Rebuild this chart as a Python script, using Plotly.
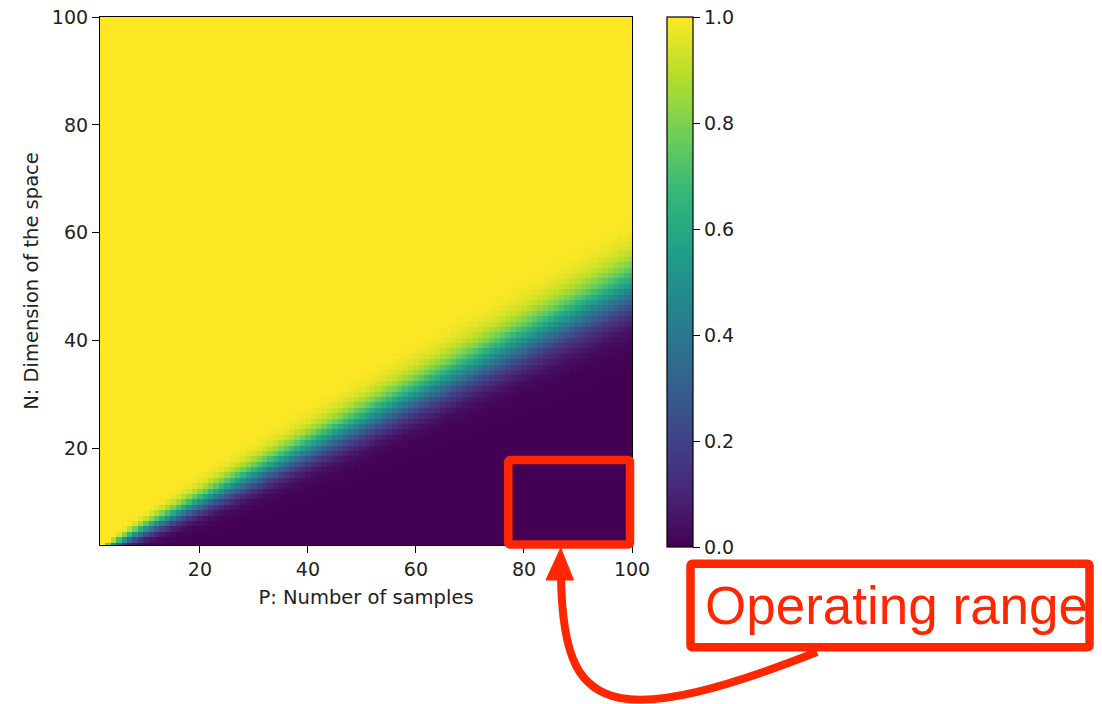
import plotly.graph_objects as go
from math import comb

# ---- data -------------------------------------------------------------
# P: number of samples (columns), N: dimension of the space (rows)
P_values = list(range(1, 101))
N_values = list(range(1, 101))
# Fraction of linearly separable dichotomies (Cover's counting function),
# which is exactly what the heat map shows.
separable_fraction = [
    [sum(comb(p - 1, k) for k in range(min(n, p))) / 2 ** (p - 1) for p in P_values]
    for n in N_values
]
x_ticks = [20, 40, 60, 80, 100]
y_ticks = [20, 40, 60, 80, 100]
cbar_ticks = [0.0, 0.2, 0.4, 0.6, 0.8, 1.0]
x_title = "P: Number of samples"
y_title = "N: Dimension of the space"
callout_text = "Operating range"

# ---- layout geometry (pixels) -----------------------------------------
W_FIG, H_FIG = 1102, 704
L, R, T, B = 100, 632, 17, 545
PW, PH = R - L, B - T
RED = "#FF2600"
FONT = "DejaVu Sans"


def xp(px):
    return (px - L) / PW


def yp(py):
    return (B - py) / PH


def rrect(x0, y0, x1, y1, r=2):
    return (
        f"M {xp(x0 + r)},{yp(y0)} L {xp(x1 - r)},{yp(y0)} "
        f"Q {xp(x1)},{yp(y0)} {xp(x1)},{yp(y0 + r)} "
        f"L {xp(x1)},{yp(y1 - r)} Q {xp(x1)},{yp(y1)} {xp(x1 - r)},{yp(y1)} "
        f"L {xp(x0 + r)},{yp(y1)} Q {xp(x0)},{yp(y1)} {xp(x0)},{yp(y1 - r)} "
        f"L {xp(x0)},{yp(y0 + r)} Q {xp(x0)},{yp(y0)} {xp(x0 + r)},{yp(y0)} Z"
    )


fig = go.Figure(
    go.Heatmap(
        x=P_values,
        y=N_values,
        z=separable_fraction,
        colorscale="Viridis",
        zmin=0,
        zmax=1,
        hoverinfo="skip",
        colorbar=dict(
            x=(667 - L) / PW,
            xanchor="left",
            y=(B - 547) / PH,
            yanchor="bottom",
            len=(547 - 17) / PH,
            lenmode="fraction",
            thickness=26,
            thicknessmode="pixels",
            outlinewidth=1.2,
            outlinecolor="black",
            ticks="outside",
            ticklen=7,
            tickwidth=1.2,
            tickcolor="black",
            tickvals=cbar_ticks,
            ticktext=[f"{v:.1f}" for v in cbar_ticks],
            tickfont=dict(family=FONT, size=19, color="#222"),
            xpad=0,
            ypad=0,
        ),
    )
)

axis_common = dict(
    showgrid=False,
    zeroline=False,
    showline=True,
    linecolor="black",
    linewidth=1.2,
    mirror=True,
    ticks="outside",
    ticklen=7,
    tickwidth=1.2,
    tickcolor="black",
    tickfont=dict(family=FONT, size=19, color="#222"),
    automargin=False,
)

fig.update_xaxes(
    range=[1.5, 100],
    tickvals=x_ticks,
    title=dict(text=x_title, font=dict(family=FONT, size=19.5, color="#222"), standoff=11),
    **axis_common,
)
fig.update_yaxes(
    range=[2.1, 100],
    tickvals=y_ticks,
    title=dict(text=y_title, font=dict(family=FONT, size=19.5, color="#222"), standoff=8),
    **axis_common,
)

shapes = [
    # box around the operating range
    dict(type="path", xref="paper", yref="paper", path=rrect(508.3, 460, 630, 544.5),
         line=dict(color=RED, width=8.5), layer="above"),
    # callout box
    dict(type="path", xref="paper", yref="paper", path=rrect(690.5, 563.7, 1089.5, 647.3),
         line=dict(color=RED, width=8.5), fillcolor="white", layer="above"),
    # curved arrow
    dict(type="path", xref="paper", yref="paper",
         path=(f"M {xp(817)},{yp(652)} C {xp(720)},{yp(690)} {xp(660)},{yp(705)} {xp(620)},{yp(698)} "
               f"C {xp(580)},{yp(690)} {xp(562)},{yp(660)} {xp(561)},{yp(575)}"),
         line=dict(color=RED, width=8), layer="above"),
    # arrow head
    dict(type="path", xref="paper", yref="paper",
         path=f"M {xp(560.7)},{yp(548)} L {xp(573.5)},{yp(580)} L {xp(546)},{yp(580)} Z",
         line=dict(color=RED, width=1), fillcolor=RED, layer="above"),
]

fig.update_layout(
    width=W_FIG,
    height=H_FIG,
    margin=dict(l=L, r=W_FIG - R, t=T, b=H_FIG - B, pad=0, autoexpand=False),
    paper_bgcolor="white",
    plot_bgcolor="white",
    shapes=shapes,
    annotations=[
        dict(text=callout_text, xref="paper", yref="paper", x=xp(896), y=yp(605.6),
             xanchor="center", yanchor="middle", showarrow=False,
             font=dict(family="Liberation Sans, Arial", size=53, color=RED)),
    ],
)

fig.write_html(
    "out.html",
    config={"displayModeBar": False},
    post_script="document.body.style.margin='0';document.body.style.overflow='hidden';",
)
